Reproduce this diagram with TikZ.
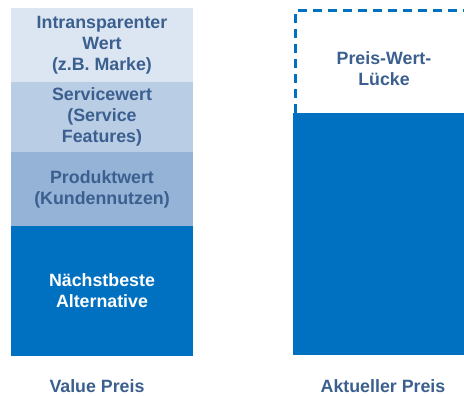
\documentclass[tikz,border=0pt]{standalone}
\usepackage{fontspec}
\setmainfont{Liberation Sans}
\definecolor{layA}{HTML}{DCE6F2}
\definecolor{layB}{HTML}{B9CDE5}
\definecolor{layC}{HTML}{95B3D7}
\definecolor{mainblue}{HTML}{0070C0}
\definecolor{txtblue}{HTML}{3B5F8F}
\begin{document}
\begin{tikzpicture}[x=1pt,y=-1pt,
  lbl/.style={inner sep=0pt, align=center, font=\fontsize{17.8}{21}\selectfont\bfseries, text=txtblue},
  layer/.style={lbl, minimum width=182pt, outer sep=0pt},
  gapline/.style={draw=mainblue, line width=3pt, dash pattern=on 9pt off 6pt}]
\useasboundingbox (0,0) rectangle (464,396);
\clip (0,0) rectangle (464,396);
% left column
\node[layer, fill=layA, minimum height=74pt] (intrans) at (102,45) {Intransparenter\\Wert\\(z.B. Marke)};
\node[layer, fill=layB, minimum height=70pt] (service) at (102,117) {Servicewert\\(Service\\Features)};
\node[layer, fill=layC, minimum height=74pt] (produkt) at (102,189) {Produktwert\\(Kundennutzen)};
\node[layer, fill=mainblue, text=white, minimum height=130pt] (alt) at (102,291) {Nächstbeste\\Alternative};
% right column
\node[layer, minimum width=180pt, minimum height=102pt] (gap) at (385,62) {};
\draw[gapline] (gap.south west) -- (gap.north west) -- (gap.north east) -- (gap.south east);
\node[layer, fill=mainblue, minimum height=242pt] (aktuell) at (384,234) {};
\node[lbl] (gaptext) at (384,69) {Preis-Wert-\\Lücke};
% captions
\node[lbl] (valuecap) at (97,386) {Value Preis};
\node[lbl] (aktcap) at (383,386) {Aktueller Preis};
\end{tikzpicture}
\end{document}
